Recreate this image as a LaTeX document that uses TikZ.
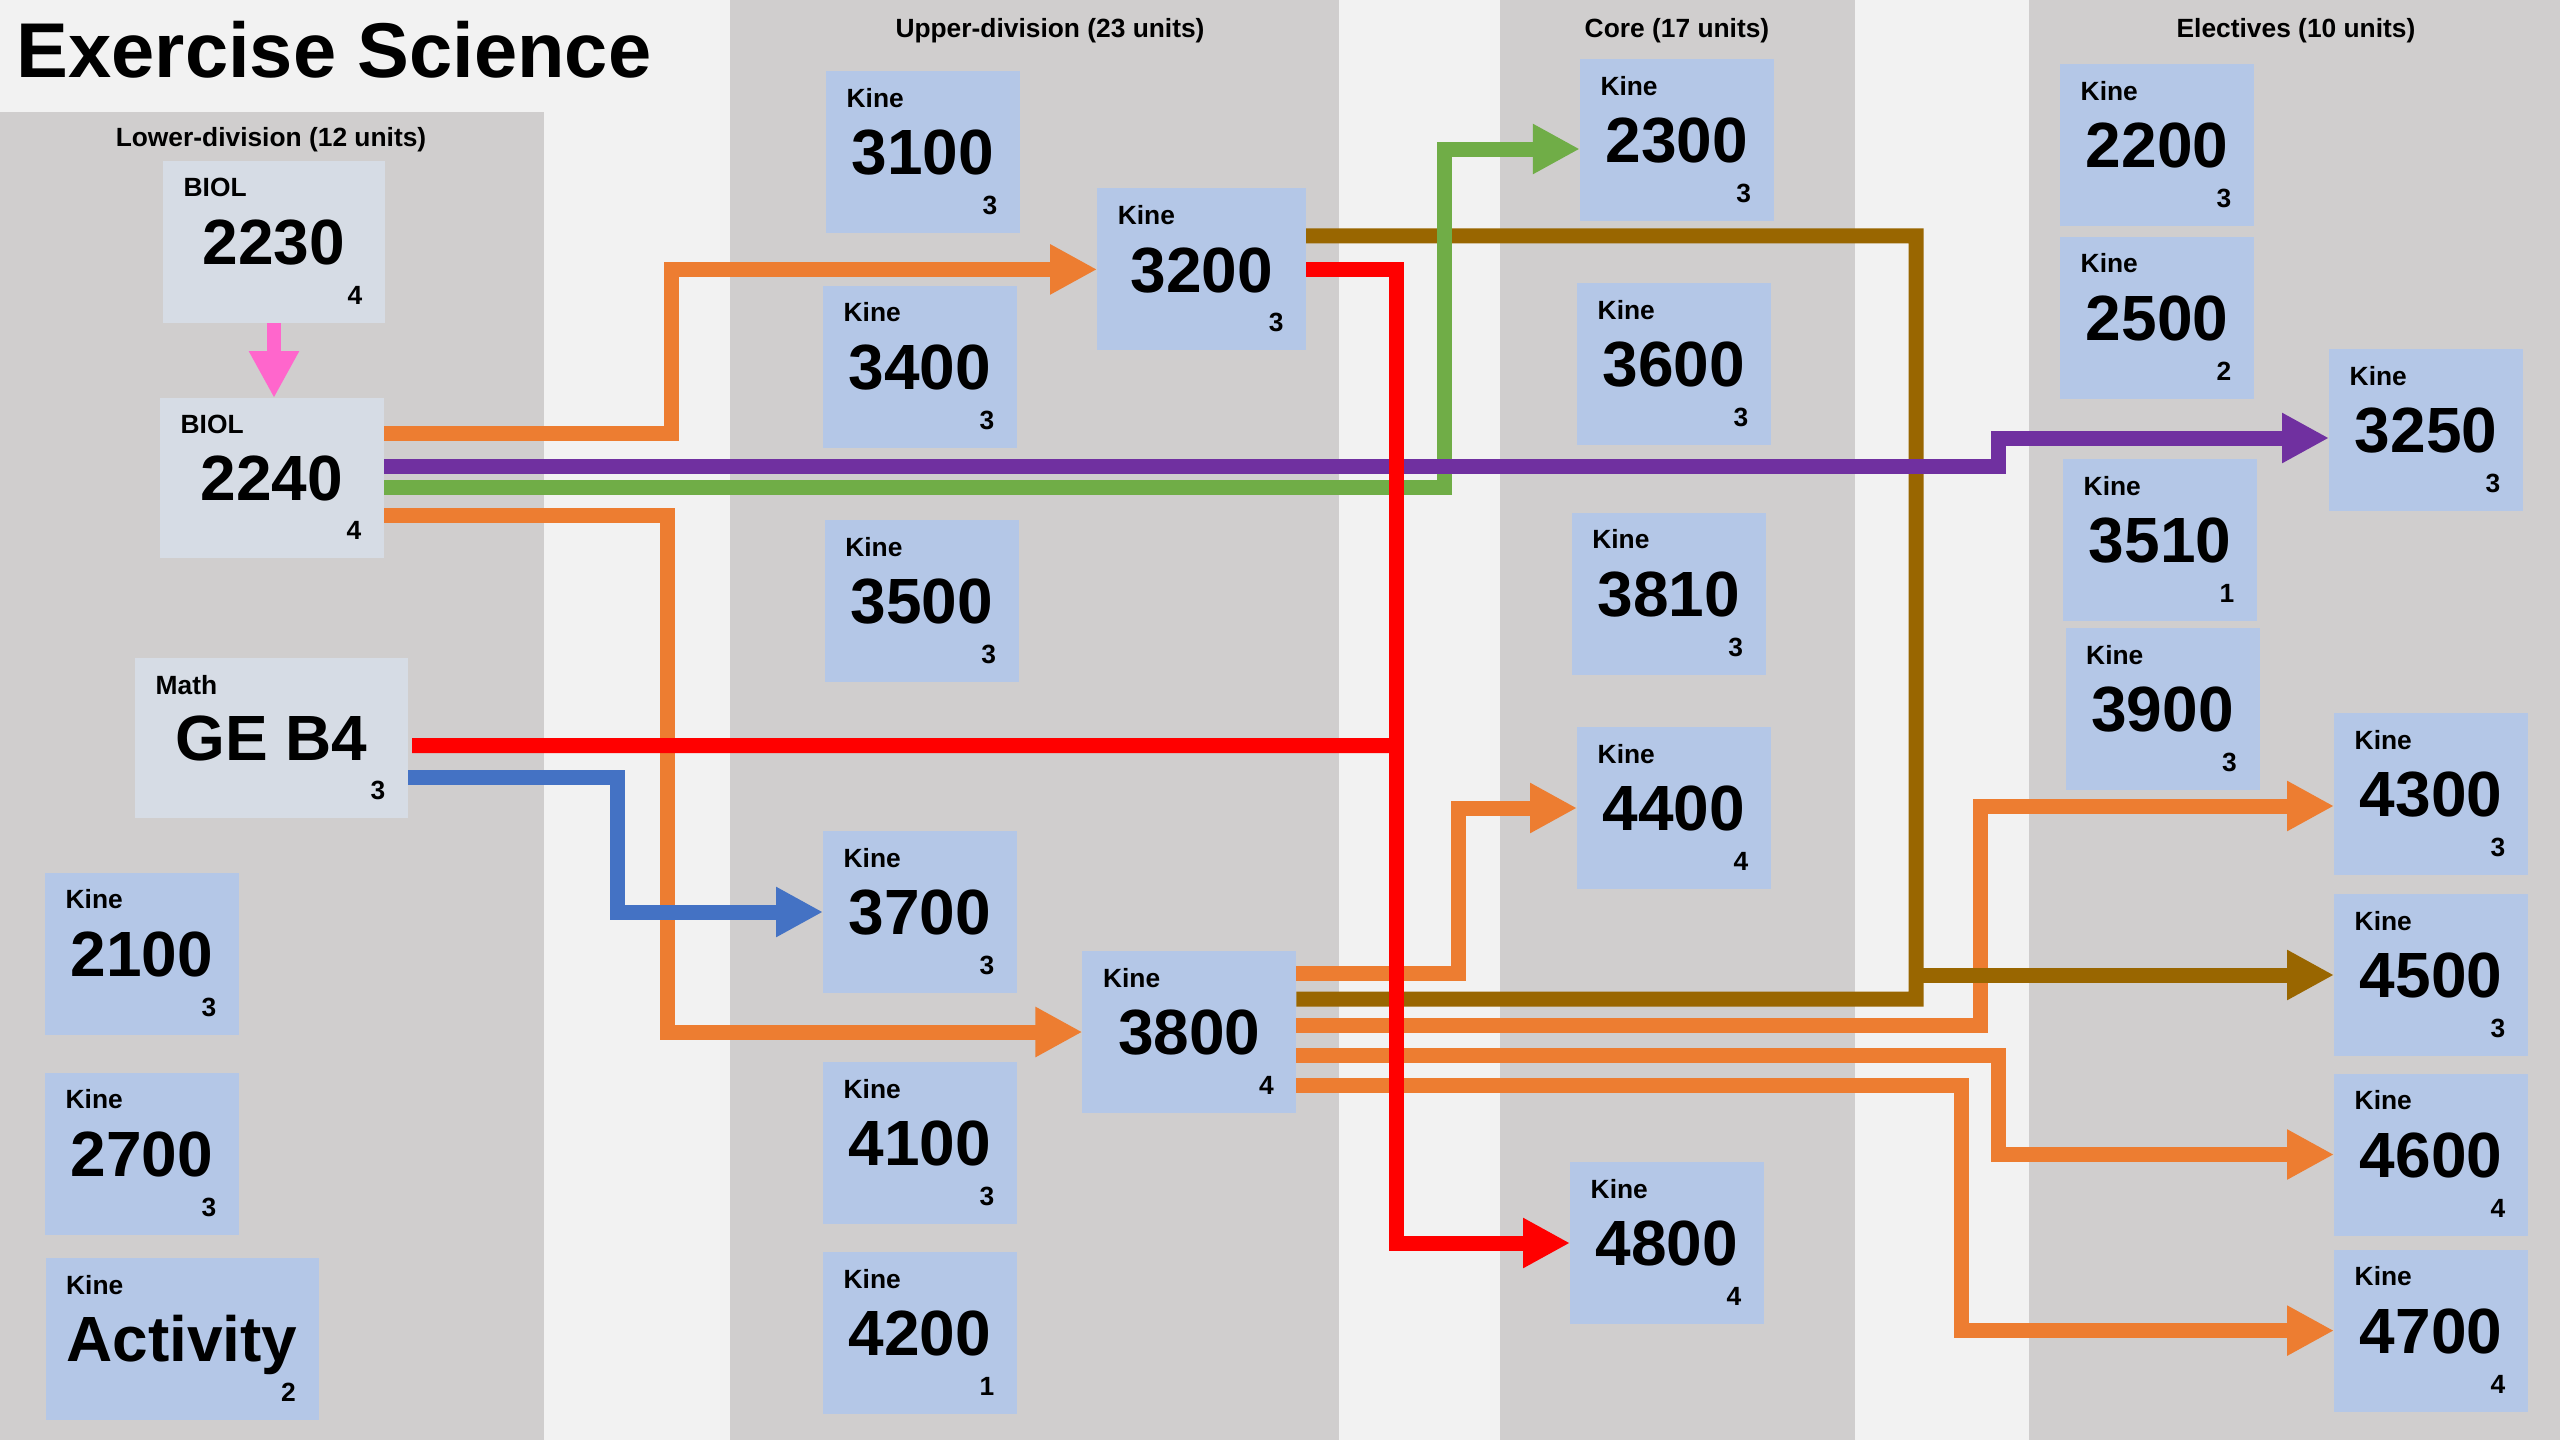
\documentclass[tikz,border=0pt]{standalone}
\usepackage{fontspec}
\setmainfont{Liberation Sans}
\usetikzlibrary{arrows.meta}

\definecolor{backdrop}{HTML}{F2F2F2}
\definecolor{column}{HTML}{D0CECE}
\definecolor{kineblue}{HTML}{B4C7E7}
\definecolor{geblue}{HTML}{D6DCE5}
\definecolor{preorange}{HTML}{ED7D31}
\definecolor{prepurple}{HTML}{7030A0}
\definecolor{pregreen}{HTML}{70AD47}
\definecolor{prered}{HTML}{FF0000}
\definecolor{preblue}{HTML}{4472C4}
\definecolor{prebrown}{HTML}{996600}
\definecolor{prepink}{HTML}{FF66CC}

\begin{document}
\begin{tikzpicture}[
		box/.style={rectangle, inner sep=0pt, outer sep=0pt, minimum width=1.94cm, minimum height=1.62cm, text height=13pt, text depth=0pt, font=\fontsize{18.2}{20}\selectfont\bfseries},
		kine/.style={box, fill=kineblue},
		ge/.style={box, fill=geblue},
		dept/.style={anchor=north west, inner sep=0pt, fill=none, minimum width=0pt, minimum height=0pt, text height={}, text depth={}, xshift=2mm, yshift=-1.65mm, font=\fontsize{7.5}{8}\selectfont\bfseries},
		units/.style={anchor=south east, inner sep=0pt, fill=none, minimum width=0pt, minimum height=0pt, text height={}, text depth={}, xshift=-2.2mm, yshift=1.75mm, font=\fontsize{7.5}{8}\selectfont\bfseries},
		header/.style={inner sep=0pt, font=\fontsize{7.5}{8}\selectfont\bfseries},
		link/.style={line width=1.5mm},
		flow/.style={link, -{Triangle[length=4.7mm, width=4.7mm]}}
	]
		\useasboundingbox (0,0) rectangle (25.6,-14.4);
		\fill[backdrop] (0,0) rectangle (25.6,-14.4);
		% columns
		\fill[column] (0,-1.12) rectangle (5.44,-14.4);
		\fill[column] (7.30,0) rectangle (13.39,-14.4);
		\fill[column] (15.00,0) rectangle (18.55,-14.4);
		\fill[column] (20.29,0) rectangle (25.6,-14.4);

		\node[anchor=west, inner sep=0pt, font=\fontsize{22.1}{24}\selectfont\bfseries] (title) at (0.16,-0.50) {Exercise Science};
		\node[header] (lower) at (2.71,-1.40) {Lower-division (12 units)};
		\node[header] (upper) at (10.50,-0.31) {Upper-division (23 units)};
		\node[header] (core) at (16.77,-0.31) {Core (17 units)};
		\node[header] (electives) at (22.96,-0.31) {Electives (10 units)};

		% lower-division
		\node[ge, minimum width=2.22cm, label={[dept] north west:BIOL}, label={[units] south east:4}] (biol_2230) at (2.74,-2.42) {2230};
		\node[ge, minimum width=2.24cm, minimum height=1.60cm, label={[dept] north west:BIOL}, label={[units] south east:4}] (biol_2240) at (2.72,-4.78) {2240};
		\node[ge, minimum width=2.73cm, minimum height=1.60cm, label={[dept] north west:Math}, label={[units] south east:3}] (math_b4) at (2.715,-7.38) {GE B4};
		\node[kine, label={[dept] north west:Kine}, label={[units] south east:3}] (kine_2100) at (1.42,-9.535) {2100};
		\node[kine, label={[dept] north west:Kine}, label={[units] south east:3}] (kine_2700) at (1.42,-11.535) {2700};
		\node[kine, minimum width=2.73cm, label={[dept] north west:Kine}, label={[units] south east:2}] (kine_act) at (1.82,-13.39) {Activity};

		% upper-division
		\node[kine, label={[dept] north west:Kine}, label={[units] south east:3}] (kine_3100) at (9.23,-1.52) {3100};
		\node[kine, label={[dept] north west:Kine}, label={[units] south east:3}] (kine_3400) at (9.20,-3.665) {3400};
		\node[kine, minimum width=2.09cm, label={[dept] north west:Kine}, label={[units] south east:3}] (kine_3200) at (12.016,-2.694) {3200};
		\node[kine, label={[dept] north west:Kine}, label={[units] south east:3}] (kine_3500) at (9.216,-6.008) {3500};
		\node[kine, label={[dept] north west:Kine}, label={[units] south east:3}] (kine_3700) at (9.20,-9.12) {3700};
		\node[kine, minimum width=2.14cm, label={[dept] north west:Kine}, label={[units] south east:4}] (kine_3800) at (11.894,-10.32) {3800};
		\node[kine, label={[dept] north west:Kine}, label={[units] south east:3}] (kine_4100) at (9.20,-11.43) {4100};
		\node[kine, label={[dept] north west:Kine}, label={[units] south east:1}] (kine_4200) at (9.20,-13.33) {4200};

		% core
		\node[kine, label={[dept] north west:Kine}, label={[units] south east:3}] (kine_2300) at (16.768,-1.40) {2300};
		\node[kine, label={[dept] north west:Kine}, label={[units] south east:3}] (kine_3600) at (16.74,-3.64) {3600};
		\node[kine, label={[dept] north west:Kine}, label={[units] south east:3}] (kine_3810) at (16.686,-5.935) {3810};
		\node[kine, label={[dept] north west:Kine}, label={[units] south east:4}] (kine_4400) at (16.74,-8.08) {4400};
		\node[kine, label={[dept] north west:Kine}, label={[units] south east:4}] (kine_4800) at (16.67,-12.43) {4800};

		% electives
		\node[kine, label={[dept] north west:Kine}, label={[units] south east:3}] (kine_2200) at (21.57,-1.45) {2200};
		\node[kine, label={[dept] north west:Kine}, label={[units] south east:2}] (kine_2500) at (21.57,-3.176) {2500};
		\node[kine, label={[dept] north west:Kine}, label={[units] south east:3}] (kine_3250) at (24.26,-4.30) {3250};
		\node[kine, label={[dept] north west:Kine}, label={[units] south east:1}] (kine_3510) at (21.60,-5.40) {3510};
		\node[kine, label={[dept] north west:Kine}, label={[units] south east:3}] (kine_3900) at (21.625,-7.09) {3900};
		\node[kine, label={[dept] north west:Kine}, label={[units] south east:3}] (kine_4300) at (24.31,-7.94) {4300};
		\node[kine, label={[dept] north west:Kine}, label={[units] south east:3}] (kine_4500) at (24.31,-9.75) {4500};
		\node[kine, label={[dept] north west:Kine}, label={[units] south east:4}] (kine_4600) at (24.31,-11.545) {4600};
		\node[kine, label={[dept] north west:Kine}, label={[units] south east:4}] (kine_4700) at (24.31,-13.306) {4700};

		\coordinate (red_join) at (13.96,-7.455);
		\coordinate (brown_join) at (19.16,-9.99);

		% prerequisites
		\draw[flow, prepink, line width=1.4mm] (biol_2230.south) -- (biol_2230.south |- biol_2240.north);
		\draw[flow, preorange] ([yshift=4.45mm]biol_2240.east) -- ++(2.87,0) |- (kine_3200);
		\draw[flow, preorange] ([yshift=-3.75mm]biol_2240.east) -- ++(2.83,0) |- (kine_3800);
		\draw[flow, preorange] ([yshift=5.9mm]kine_3800.east) -- ++(1.62,0) |- (kine_4400);
		\draw[flow, preorange] ([yshift=0.7mm]kine_3800.east) -- ++(6.84,0) |- ([yshift=-1.2mm]kine_4300.west);
		\draw[flow, preorange] ([yshift=-2.3mm]kine_3800.east) -- ++(7.02,0) |- (kine_4600);
		\draw[flow, preorange] ([yshift=-5.3mm]kine_3800.east) -- ++(6.65,0) |- (kine_4700);
		\draw[link, prebrown] ([yshift=3.35mm]kine_3200.east) -| (brown_join) -- ([yshift=3.3mm]kine_3800.east);
		\draw[flow, prebrown] (brown_join |- kine_4500) -- (kine_4500);
		\draw[flow, pregreen] ([yshift=-0.9mm]biol_2240.east) -- ++(10.60,0) |- ([yshift=-0.9mm]kine_2300.west);
		\draw[flow, prepurple] ([yshift=1.2mm]biol_2240.east) -- ++(16.14,0) |- ([yshift=-0.8mm]kine_3250.west);
		\draw[flow, preblue] ([yshift=-3.9mm]math_b4.east) -- ++(2.09,0) |- (kine_3700);
		\draw[link, prered] ([xshift=0.4mm, yshift=-0.75mm]math_b4.east) -- (red_join);
		\draw[flow, prered] (kine_3200.east) -- ++(0.9,0) |- (kine_4800);
	\end{tikzpicture}
\end{document}
